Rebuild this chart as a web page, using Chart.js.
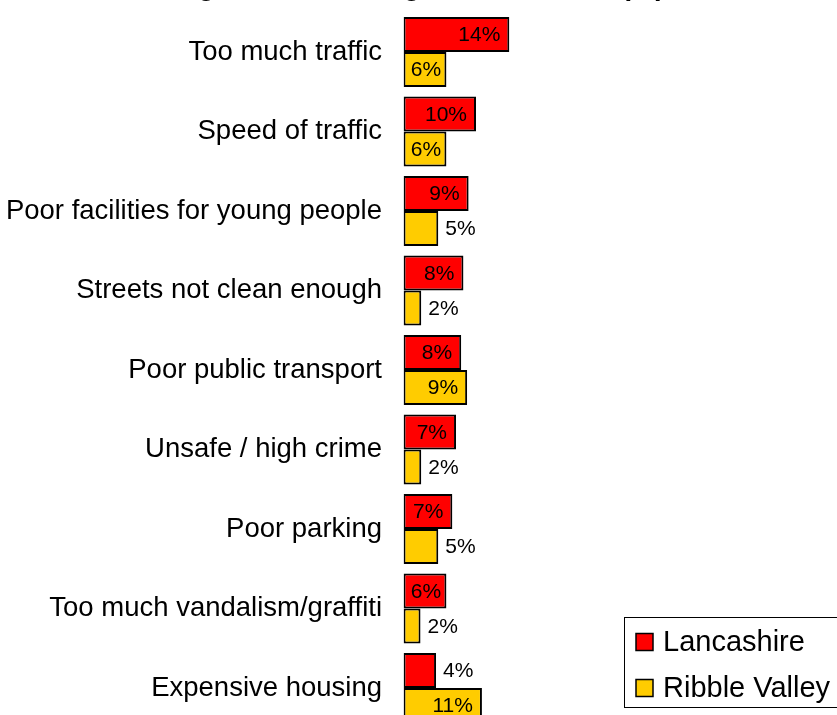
<!DOCTYPE html>
<html>
<head>
<meta charset="utf-8">
<script src="https://cdn.jsdelivr.net/npm/chart.js@4.4.1/dist/chart.umd.min.js"></script>
<style>
  html, body { margin: 0; padding: 0; background: #fff; overflow: hidden; }
  #wrap { position: absolute; left: 0; top: 0; width: 837px; height: 760px; }
</style>
</head>
<body>
<div id="wrap"><canvas id="issuesChart"></canvas></div>
<script>
// Things most needing attention - Lancashire vs Ribble Valley
const categories = [
    'Too much traffic',
    'Speed of traffic',
    'Poor facilities for young people',
    'Streets not clean enough',
    'Poor public transport',
    'Unsafe / high crime',
    'Poor parking',
    'Too much vandalism/graffiti',
    'Expensive housing'
];
const lancashire = [14.3, 9.8, 8.8, 8.1, 7.8, 7.1, 6.6, 5.8, 4.4];
const ribbleValley = [5.8, 5.8, 4.7, 2.4, 8.6, 2.4, 4.7, 2.3, 10.6];
const titleText = 'Things most needing attention here (%)';

const FONT = "'Liberation Sans', Arial, sans-serif";
Chart.defaults.font.family = FONT;
Chart.defaults.color = '#000';

// title sits mostly above the visible area, only descenders show
const titlePlugin = {
    id: 'cutTitle',
    afterDraw(chart) {
        const c = chart.ctx;
        c.save();
        c.font = 'bold 28px ' + FONT;
        c.fillStyle = '#000';
        c.textAlign = 'left';
        c.textBaseline = 'alphabetic';
        c.fillText(titleText, 139, -5);
        c.restore();
    }
};

// value labels: inside end when it fits, else just outside
const valueLabels = {
    id: 'valueLabels',
    afterDatasetsDraw(chart) {
        const c = chart.ctx;
        c.save();
        c.font = '21px ' + FONT;
        c.fillStyle = '#000';
        c.textBaseline = 'middle';
        chart.data.datasets.forEach((ds, i) => {
            chart.getDatasetMeta(i).data.forEach((bar, j) => {
                const txt = Math.round(ds.data[j]) + '%';
                const tw = c.measureText(txt).width;
                const w = bar.x - bar.base;
                const y = bar.y + 1;
                if (w >= tw + 18) {
                    c.textAlign = 'right';
                    c.fillText(txt, bar.x - 9, y);
                } else if (w >= tw + 8) {
                    c.textAlign = 'center';
                    c.fillText(txt, bar.base + w / 2 + 1, y);
                } else {
                    c.textAlign = 'left';
                    c.fillText(txt, bar.x + 7, y);
                }
            });
        });
        c.restore();
    }
};

// boxed legend in the lower right
const boxLegend = {
    id: 'boxLegend',
    afterDraw(chart) {
        const c = chart.ctx;
        c.save();
        c.lineWidth = 1;
        c.strokeStyle = '#000';
        c.fillStyle = '#fff';
        c.fillRect(624.5, 617.5, 300, 90);
        c.strokeRect(624.5, 617.5, 300, 90);
        c.font = '29px ' + FONT;
        c.textBaseline = 'middle';
        c.textAlign = 'left';
        chart.data.datasets.forEach((ds, i) => {
            const y = 642 + i * 46;
            c.fillStyle = ds.backgroundColor;
            c.fillRect(636, y - 8.5, 17, 17);
            c.lineWidth = 1.5;
            c.strokeRect(636, y - 8.5, 17, 17);
            c.fillStyle = '#000';
            c.fillText(ds.label, 663, y + 1);
        });
        c.restore();
    }
};

const ctx = document.getElementById('issuesChart').getContext('2d');
const issuesChart = new Chart(ctx, {
    type: 'bar',
    data: {
        labels: categories,
        datasets: [{
            label: 'Lancashire',
            data: lancashire,
            backgroundColor: '#FF0000',
            borderColor: '#000',
            borderWidth: 2,
            borderSkipped: false
        }, {
            label: 'Ribble Valley',
            data: ribbleValley,
            backgroundColor: '#FFCC00',
            borderColor: '#000',
            borderWidth: 2,
            borderSkipped: false
        }]
    },
    options: {
        indexAxis: 'y',
        responsive: true,
        maintainAspectRatio: false,
        animation: false,
        datasets: {
            bar: { categoryPercentage: 0.88, barPercentage: 1.0 }
        },
        layout: {
            padding: { top: 12.25, bottom: 32.25, right: 63.5, left: 0 }
        },
        scales: {
            x: {
                display: false,
                min: 0,
                max: 50
            },
            y: {
                grid: { display: false, drawTicks: false },
                border: { display: false },
                ticks: {
                    padding: 21.5,
                    font: { size: 27.5 },
                    color: '#000'
                },
                afterFit(scale) {
                    scale.width = 403.5;
                    scale.paddingTop = 0;
                    scale.paddingBottom = 0;
                }
            }
        },
        plugins: {
            legend: { display: false },
            title: { display: false },
            tooltip: { enabled: false }
        }
    },
    plugins: [valueLabels, boxLegend, titlePlugin]
});
</script>
</body>
</html>
